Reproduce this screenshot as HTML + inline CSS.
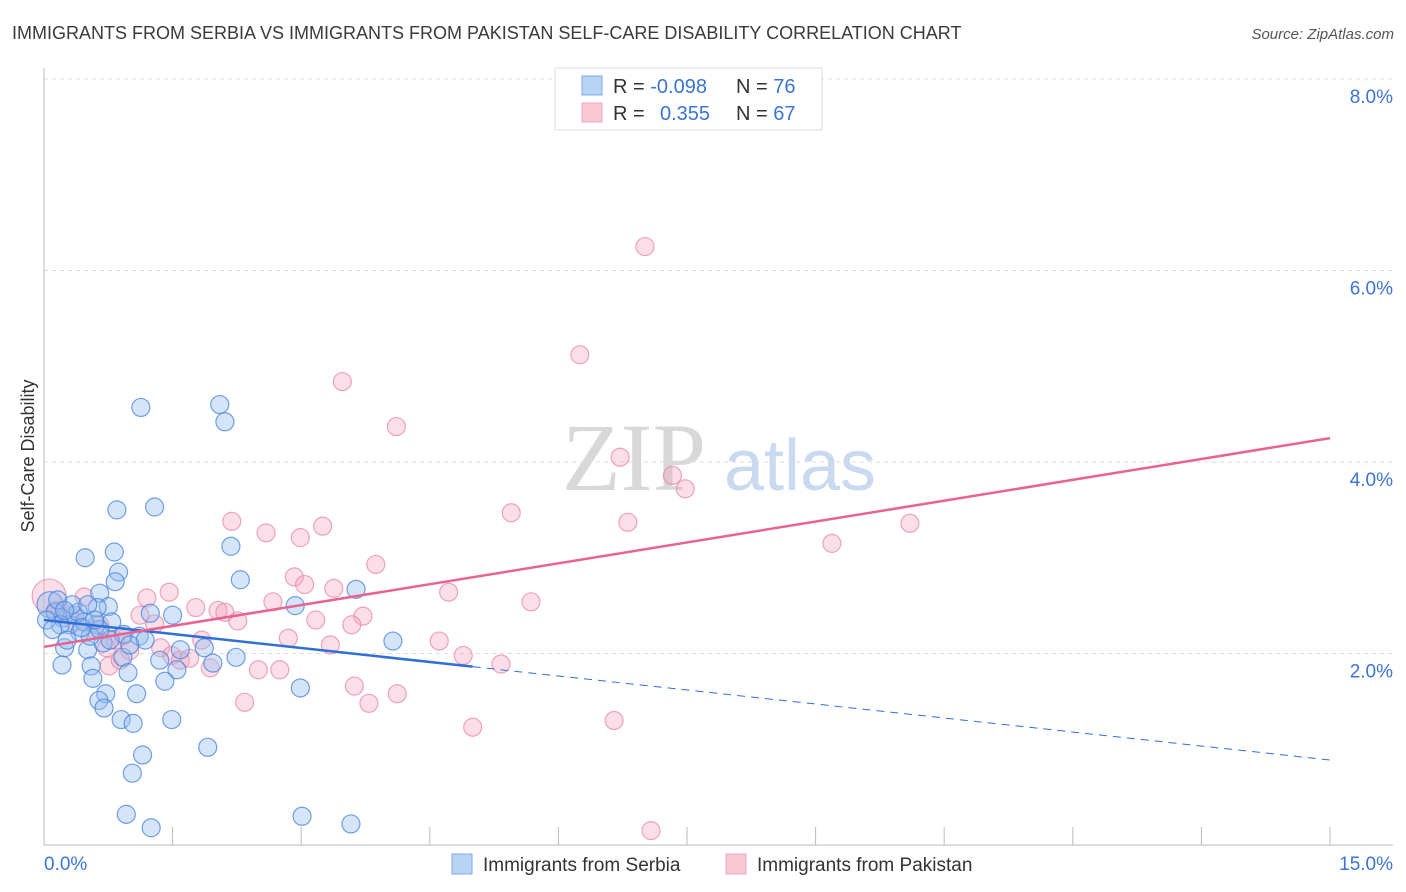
<!DOCTYPE html>
<html><head><meta charset="utf-8"><style>
body{margin:0;background:#fff;font-family:"Liberation Sans",sans-serif;}
#wrap{position:relative;width:1406px;height:892px;overflow:hidden;}
</style></head><body>
<div id="wrap">
<svg id="chart" width="1406" height="892" xmlns="http://www.w3.org/2000/svg">
<text x="12" y="39" font-size="18" fill="#3a3a3a">IMMIGRANTS FROM SERBIA VS IMMIGRANTS FROM PAKISTAN SELF-CARE DISABILITY CORRELATION CHART</text>
<text x="1394" y="39" font-size="15" fill="#555" font-style="italic" text-anchor="end">Source: ZipAtlas.com</text>
<g>
<text x="634" y="490" font-size="96" font-family="Liberation Serif, serif" fill="#d8d8d8" text-anchor="middle">ZIP</text>
<text x="800" y="490" font-size="72" fill="#c9daf0" text-anchor="middle">atlas</text>
</g>
<g id="grid"></g>
<g id="axes"></g>
<g id="marks"></g>
<g id="lines"></g>
<text transform="translate(34,456) rotate(-90)" font-size="18" fill="#333" text-anchor="middle">Self-Care Disability</text>
<g>
<rect x="555" y="68" width="267" height="62" fill="#fff" stroke="#ddd"/>
<rect x="582" y="76" width="20" height="19" fill="#b9d3f5" stroke="#7eaae6"/>
<rect x="582" y="103" width="20" height="19" fill="#f9c6d5" stroke="#eea5bd"/>
<text x="613" y="93" font-size="20" fill="#333">R = <tspan fill="#3b74d4">-0.098</tspan></text>
<text x="736" y="93" font-size="20" fill="#333">N = <tspan fill="#3b74d4">76</tspan></text>
<text x="613" y="120" font-size="20" fill="#333">R = <tspan fill="#3b74d4" x="660">0.355</tspan></text>
<text x="736" y="120" font-size="20" fill="#333">N = <tspan fill="#3b74d4">67</tspan></text>
</g>
<g>
<rect x="452" y="854" width="20" height="20" fill="#b9d3f5" stroke="#7eaae6"/>
<text x="483" y="871" font-size="19" fill="#333">Immigrants from Serbia</text>
<rect x="726" y="854" width="20" height="20" fill="#f9c6d5" stroke="#eea5bd"/>
<text x="757" y="871" font-size="19" fill="#333">Immigrants from Pakistan</text>
</g>
</svg>
</div>
<script>
const serbiaX=[1.13,2.05,2.11,0.85,1.29,0.48,0.82,2.18,0.87,0.83,2.29,0.65,3.64,0.75,2.93,1.24,1.50,0.22,0.30,0.61,0.79,0.42,0.93,1.11,4.07,0.24,0.51,0.69,1.87,2.24,0.92,0.21,0.55,1.97,0.98,0.57,1.55,1.41,2.99,0.72,1.08,0.64,0.70,0.90,1.04,1.49,1.91,1.15,1.03,0.96,1.25,3.01,3.58,0.07,0.13,0.19,0.36,0.47,0.54,0.62,0.03,0.10,0.27,0.40,0.77,1.18,1.35,0.33,0.51,0.16,0.65,1.00,1.59,0.24,0.44,0.59];
const serbiaY=[4.57,4.60,4.42,3.50,3.53,3.00,3.06,3.12,2.85,2.75,2.77,2.63,2.67,2.49,2.50,2.42,2.40,2.37,2.30,2.30,2.33,2.22,2.20,2.18,2.13,2.06,2.04,2.11,2.06,1.96,1.96,1.88,1.87,1.90,1.80,1.74,1.83,1.71,1.64,1.58,1.58,1.51,1.43,1.31,1.27,1.31,1.02,0.94,0.75,0.32,0.18,0.30,0.22,2.51,2.43,2.30,2.40,2.33,2.18,2.48,2.35,2.25,2.14,2.43,2.14,2.14,1.93,2.51,2.51,2.56,2.25,2.09,2.04,2.45,2.27,2.35];
const serbiaR=[9,9,9,9,9,9,9,9,9,9,9,9,9,9,9,9,9,9,9,9,9,9,9,9,9,9,9,9,9,9,9,9,9,9,9,9,9,9,9,9,9,9,9,9,9,9,9,9,9,9,9,9,9,13,9,9,9,9,9,9,9,9,9,9,9,9,9,9,9,9,9,9,9,9,9,9];
const pakX=[7.01,6.25,3.48,4.11,6.72,7.33,7.48,5.45,2.19,6.81,10.10,3.25,2.59,2.99,9.19,3.87,2.92,3.04,3.38,4.72,0.47,1.20,1.46,2.67,1.77,2.03,2.11,5.68,1.12,2.26,3.17,3.72,3.59,1.29,0.06,0.19,0.36,1.84,2.85,4.61,0.92,3.34,1.36,0.73,0.83,1.00,4.89,1.49,1.59,1.70,1.94,2.50,2.75,5.33,0.76,3.62,4.12,2.34,3.79,6.65,5.00,7.08,0.59,0.30,0.65,0.89,0.13];
const pakY=[6.25,5.12,4.84,4.37,4.05,3.86,3.72,3.47,3.38,3.37,3.36,3.33,3.26,3.21,3.15,2.93,2.80,2.72,2.68,2.64,2.59,2.58,2.64,2.54,2.48,2.45,2.43,2.54,2.40,2.34,2.35,2.39,2.30,2.31,2.60,2.45,2.33,2.14,2.16,2.13,2.18,2.09,2.06,2.06,2.14,2.03,1.98,1.98,1.93,1.95,1.85,1.83,1.83,1.89,1.87,1.66,1.58,1.49,1.48,1.30,1.23,0.15,2.25,2.40,2.30,1.93,2.45];
const pakR=[9,9,9,9,9,9,9,9,9,9,9,9,9,9,9,9,9,9,9,9,9,9,9,9,9,9,9,9,9,9,9,9,9,9,17,9,9,9,9,9,9,9,9,9,9,9,9,9,9,9,9,9,9,9,9,9,9,9,9,9,9,9,9,9,9,9,9];
const yTicks=[2,4,6,8];
const yTickLabels=["2.0%","4.0%","6.0%","8.0%"];
const xTicks=[0,1.5,3,4.5,6,7.5,9,10.5,12,13.5,15];
const serbiaTrend=[2.35,-0.0975,5.0];   // intercept, slope, solid end x
const pakTrend=[2.07,0.1453];

const NS="http://www.w3.org/2000/svg";
const X0=44,X1=1330,Y0=845,PXPERY=95.75;
const sx=v=>X0+(X1-X0)*v/15;
const sy=v=>Y0-v*PXPERY;
function mk(tag,attrs,parent){const e=document.createElementNS(NS,tag);for(const k in attrs)e.setAttribute(k,attrs[k]);parent.appendChild(e);return e;}
const grid=document.getElementById('grid'),axes=document.getElementById('axes'),marks=document.getElementById('marks'),lines=document.getElementById('lines');
yTicks.forEach((t,i)=>{
  const l=mk('line',{x1:X0,x2:1393,y1:sy(t),y2:sy(t),stroke:'#ddd','stroke-dasharray':'4,4'},grid);
  
  
  const tx=mk('text',{x:1393,y:sy(t)+24,'font-size':19,fill:'#3b74d4','text-anchor':'end'},axes);
  tx.textContent=yTickLabels[i];
  
  
});
const ya=mk('line',{x1:X0,x2:X0,y1:68,y2:Y0,stroke:'#bbb'},axes);


const xa=mk('line',{x1:X0,x2:1393,y1:Y0,y2:Y0,stroke:'#bbb'},axes);


xTicks.forEach(t=>{
  const l=mk('line',{x1:sx(t),x2:sx(t),y1:Y0,y2:Y0-18,stroke:'#bbb'},axes);
  
  
});
const xl0=mk('text',{x:44,y:870,'font-size':19,fill:'#3b74d4'},axes);xl0.textContent='0.0%';


const xl1=mk('text',{x:1393,y:870,'font-size':19,fill:'#3b74d4','text-anchor':'end'},axes);xl1.textContent='15.0%';



pakX.forEach((v,i)=>{
  const c=mk('circle',{cx:sx(v),cy:sy(pakY[i]),r:pakR[i],fill:'rgba(244,160,190,0.35)',stroke:'rgba(230,130,165,0.7)','stroke-width':1.2},marks);
  
  
});
serbiaX.forEach((v,i)=>{
  const c=mk('circle',{cx:sx(v),cy:sy(serbiaY[i]),r:serbiaR[i],fill:'rgba(150,190,240,0.4)',stroke:'rgba(70,130,220,0.75)','stroke-width':1.2},marks);
  
  
});
const bt=x=>serbiaTrend[0]+serbiaTrend[1]*x;
const l1=mk('line',{x1:sx(0),y1:sy(bt(0)),x2:sx(serbiaTrend[2]),y2:sy(bt(serbiaTrend[2])),stroke:'#2f6fd6','stroke-width':2.5},lines);


const l2=mk('line',{x1:sx(serbiaTrend[2]),y1:sy(bt(serbiaTrend[2])),x2:sx(15),y2:sy(bt(15)),stroke:'#2f6fd6','stroke-width':1,'stroke-dasharray':'8,6'},lines);


const pt=x=>pakTrend[0]+pakTrend[1]*x;
const l3=mk('line',{x1:sx(0),y1:sy(pt(0)),x2:sx(15),y2:sy(pt(15)),stroke:'#e8638f','stroke-width':2.5},lines);


</script>
</body></html>
